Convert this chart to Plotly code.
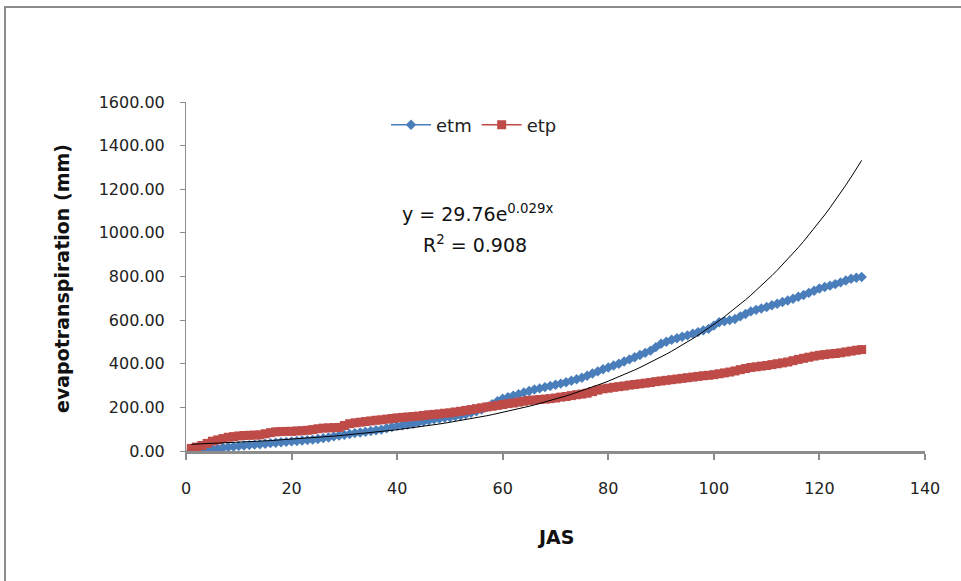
import plotly.graph_objects as go
import math

# ---- data ----
days = list(range(1, 129))

etm = [3, 4, 5, 7, 8, 11, 15, 18, 20, 23,
       25, 27, 29, 31, 33, 36, 38, 40, 42, 44,
       46, 48, 50, 52, 55, 59, 62, 67, 71, 74,
       78, 82, 85, 88, 92, 95, 98, 104, 110, 115,
       118, 121, 125, 130, 135, 140, 145, 148, 152, 155,
       159, 163, 168, 175, 182, 190, 202, 215, 228, 240,
       247, 254, 260, 268, 275, 282, 287, 293, 298, 304,
       309, 315, 322, 329, 336, 345, 355, 365, 375, 383,
       392, 400, 410, 420, 430, 440, 450, 460, 476, 492,
       501, 510, 517, 524, 530, 538, 545, 553, 560, 575,
       590, 595, 600, 605, 617, 628, 640, 647, 653, 660,
       668, 675, 683, 690, 698, 707, 715, 725, 735, 745,
       752, 758, 765, 773, 782, 790, 794, 798]

etp = [12, 18, 25, 35, 45, 51, 57, 63, 66, 69,
       71, 72, 73, 74, 79, 84, 88, 89, 90, 90,
       92, 93, 95, 98, 102, 105, 106, 107, 108, 117,
       125, 129, 132, 135, 138, 141, 143, 146, 149, 152,
       154, 156, 158, 160, 163, 166, 168, 170, 173, 175,
       179, 182, 186, 190, 194, 198, 202, 205, 209, 213,
       217, 220, 224, 228, 232, 234, 236, 238, 240, 243,
       247, 250, 254, 258, 261, 265, 272, 279, 285, 288,
       292, 295, 298, 302, 305, 308, 311, 314, 318, 321,
       324, 327, 330, 333, 336, 339, 342, 345, 347, 350,
       354, 358, 362, 367, 373, 378, 383, 386, 389, 392,
       396, 400, 404, 408, 414, 420, 425, 430, 435, 439,
       442, 445, 447, 450, 454, 458, 462, 465]

# exponential trendline parameters (fit of etm)
trend_a = 29.76
trend_b = 0.0297

x_ticks = [0, 20, 40, 60, 80, 100, 120, 140]
y_ticks = [0, 200, 400, 600, 800, 1000, 1200, 1400, 1600]

trend = [trend_a * math.exp(trend_b * d) for d in days]

# ---- figure ----
W, H = 961, 581
ML, MR, MT, MB = 186, 36, 102, 130
PW, PH = W - ML - MR, H - MT - MB


def px2paper_x(px):
    return (px - ML) / PW


def py2paper_y(py):
    return (H - MB - py) / PH


BLUE = "#4A7EBB"
RED = "#BE4B48"
GREY = "#8C8C8C"
FONT = "DejaVu Sans"

fig = go.Figure()
fig.add_trace(go.Scatter(
    x=days, y=etm, name="etm", mode="lines+markers",
    line=dict(color=BLUE, width=1.5),
    marker=dict(symbol="diamond", size=8, color=BLUE, line=dict(width=0)),
))
fig.add_trace(go.Scatter(
    x=days, y=etp, name="etp", mode="lines+markers",
    line=dict(color=RED, width=1.5),
    marker=dict(symbol="square", size=9, color=RED, line=dict(width=0)),
))
fig.add_trace(go.Scatter(
    x=days, y=trend, name="trend", mode="lines",
    line=dict(color="black", width=1), showlegend=False,
))

fig.update_layout(
    width=W, height=H,
    margin=dict(l=ML, r=MR, t=MT, b=MB, pad=0),
    paper_bgcolor="white", plot_bgcolor="white",
    font=dict(family=FONT, color="#222222"),
    showlegend=True,
    legend=dict(
        orientation="h", x=px2paper_x(386), y=py2paper_y(125),
        xanchor="left", yanchor="middle",
        font=dict(family=FONT, size=18, color="#222222"),
        bgcolor="rgba(0,0,0,0)", itemwidth=40,
    ),
    xaxis=dict(
        range=[0, 140], tickvals=x_ticks, ticktext=[str(v) for v in x_ticks],
        showgrid=False, zeroline=False,
        showline=True, linecolor=GREY, linewidth=3,
        ticks="outside", ticklen=6, tickwidth=2, tickcolor=GREY,
        tickfont=dict(family=FONT, size=16, color="#222222"),
        ticklabelstandoff=15,
    ),
    yaxis=dict(
        range=[0, 1600], tickvals=y_ticks, ticktext=[f"{v:.2f}" for v in y_ticks],
        showgrid=False, zeroline=False,
        showline=True, linecolor=GREY, linewidth=1,
        ticks="outside", ticklen=5, tickwidth=1, tickcolor=GREY,
        tickfont=dict(family=FONT, size=16, color="#222222"),
        ticklabelstandoff=12,
    ),
    shapes=[dict(
        type="rect", xref="paper", yref="paper",
        x0=px2paper_x(5), x1=px2paper_x(990),
        y0=py2paper_y(610), y1=py2paper_y(7),
        line=dict(color=GREY, width=2), fillcolor="rgba(0,0,0,0)", layer="below",
    )],
    annotations=[
        dict(text="<b>evapotranspiration (mm)</b>", xref="paper", yref="paper",
             x=px2paper_x(62), y=py2paper_y(278), textangle=-90,
             showarrow=False, xanchor="center", yanchor="middle",
             font=dict(family=FONT, size=19, color="#111111")),
        dict(text="<b>JAS</b>", xref="paper", yref="paper",
             x=px2paper_x(555), y=py2paper_y(537),
             showarrow=False, xanchor="center", yanchor="middle",
             font=dict(family=FONT, size=19, color="#111111")),
        dict(text="y = 29.76e<sup>0.029x</sup>", xref="paper", yref="paper",
             x=px2paper_x(477), y=py2paper_y(213),
             showarrow=False, xanchor="center", yanchor="middle",
             font=dict(family=FONT, size=19, color="#111111")),
        dict(text="R<sup>2</sup> = 0.908", xref="paper", yref="paper",
             x=px2paper_x(475), y=py2paper_y(244),
             showarrow=False, xanchor="center", yanchor="middle",
             font=dict(family=FONT, size=19, color="#111111")),
    ],
)

fig.write_html("out.html")
